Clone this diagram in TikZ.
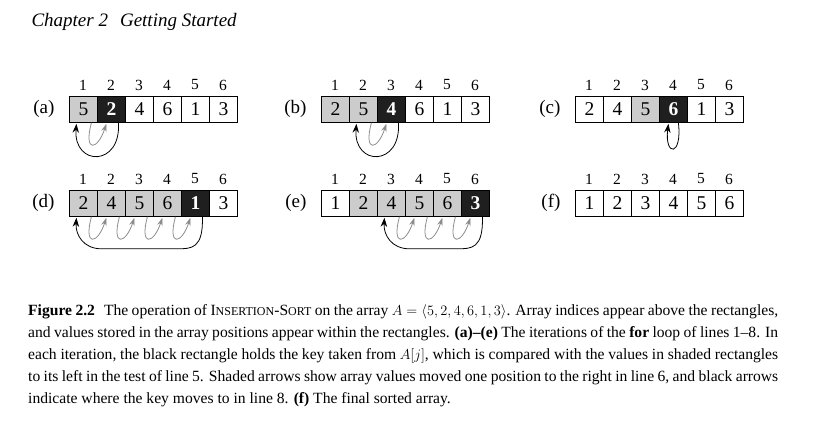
\documentclass[tikz,border=0pt]{standalone}
\usepackage{fontspec}
\setmainfont{Liberation Serif}
\usetikzlibrary{calc,arrows.meta}
\tikzset{
 cell/.style={draw,line width=0.8pt,minimum width=28pt,minimum height=26pt,inner sep=0pt,font=\fontsize{19.5}{19.5}\selectfont,anchor=north west},
 shd/.style={cell,fill=black!20},
 key/.style={cell,fill=black!88,text=white,font=\fontsize{19.5}{19.5}\selectfont\bfseries},
 idx/.style={font=\fontsize{15.5}{15.5}\selectfont},
 lbl/.style={font=\fontsize{19}{19}\selectfont,anchor=east},
 garr/.style={draw=black!45,line width=0.8pt,-{Stealth[length=8pt,width=5.5pt]}},
 barr/.style={draw=black,line width=0.8pt,-{Stealth[length=9pt,width=6.5pt]}},
}
\newcommand{\myarr}[5]{% name, x, y, label, list value/style
 \node[lbl] (#1l) at (#2-11,#3+13) {(#4)};
 \foreach \v/\s [count=\i] in {#5}{
  \node[\s] (#1\i) at (#2+28*\i-28,#3) {\v};
  \node[idx] (#1i\i) at (#2+28*\i-14,#3-11) {\i};
 }}
\newcommand{\gmove}[2]{\draw[garr] ($(#1.south)+(8,0)$) .. controls ($(#1.south)+(0,30)$) and ($(#2.south)+(-14,28)$) .. ($(#2.south)+(-5,1)$);}
\newcommand{\bmove}[3]{\draw[barr] ($(#1.south)+(7,0)$) .. controls ($(#1.south)+(10,#3)$) and ($(#2.south)+(-10,#3)$) .. ($(#2.south)+(-7,1)$);}
\begin{document}
\begin{tikzpicture}[x=1pt,y=-1pt]
\useasboundingbox (0,0) rectangle (827,446);
\node[anchor=west,font=\fontsize{19}{19}\selectfont\itshape] (hdr) at (28,22) {Chapter 2\hspace{12pt}Getting Started};
\myarr{a}{69}{96}{a}{5/shd,2/key,4/cell,6/cell,1/cell,3/cell}
\myarr{b}{321}{96}{b}{2/shd,5/shd,4/key,6/cell,1/cell,3/cell}
\myarr{c}{575}{96}{c}{2/cell,4/cell,5/shd,6/key,1/cell,3/cell}
\myarr{d}{69}{190}{d}{2/shd,4/shd,5/shd,6/shd,1/key,3/cell}
\myarr{e}{321}{190}{e}{1/cell,2/shd,4/shd,5/shd,6/shd,3/key}
\myarr{f}{575}{190}{f}{1/cell,2/cell,3/cell,4/cell,5/cell,6/cell}
\gmove{a1}{a2}\bmove{a2}{a1}{44}
\gmove{b2}{b3}\bmove{b3}{b2}{44}
\draw[barr] ($(c4.south)+(5,0)$) .. controls ($(c4.south)+(9,34)$) and ($(c4.south)+(-9,34)$) .. ($(c4.south)+(-5,1)$);
\gmove{d1}{d2}\gmove{d2}{d3}\gmove{d3}{d4}\gmove{d4}{d5}
\draw[barr] ($(d5.south)+(7,0)$) .. controls ($(d5.south)+(8,32)$) and ($(d5.south)+(-4,32)$) .. ($(d5.south)+(-18,32)$) -- ($(d1.south)+(18,32)$) .. controls ($(d1.south)+(0,32)$) and ($(d1.south)+(-8,18)$) .. ($(d1.south)+(-7,1)$);
\gmove{e3}{e4}\gmove{e4}{e5}\gmove{e5}{e6}
\draw[barr] ($(e6.south)+(7,0)$) .. controls ($(e6.south)+(8,32)$) and ($(e6.south)+(-4,32)$) .. ($(e6.south)+(-18,32)$) -- ($(e3.south)+(18,32)$) .. controls ($(e3.south)+(0,32)$) and ($(e3.south)+(-8,18)$) .. ($(e3.south)+(-7,1)$);
\node[anchor=north west,text width=750pt,align=justify,inner sep=0pt,font=\fontsize{15.6}{22}\selectfont] (cap) at (28,304) {\textbf{Figure 2.2}\hspace{9pt}The operation of I{\fontsize{12}{10}\selectfont NSERTION}-S{\fontsize{12}{10}\selectfont ORT} on the array $A=\langle 5,2,4,6,1,3\rangle$. Array indices appear above the rectangles, and values stored in the array positions appear within the rectangles. \textbf{(a)--(e)} The iterations of the \textbf{for} loop of lines 1--8. In each iteration, the black rectangle holds the key taken from $A[j]$, which is compared with the values in shaded rectangles to its left in the test of line 5. Shaded arrows show array values moved one position to the right in line 6, and black arrows indicate where the key moves to in line 8. \textbf{(f)} The final sorted array.};
\end{tikzpicture}
\end{document}
